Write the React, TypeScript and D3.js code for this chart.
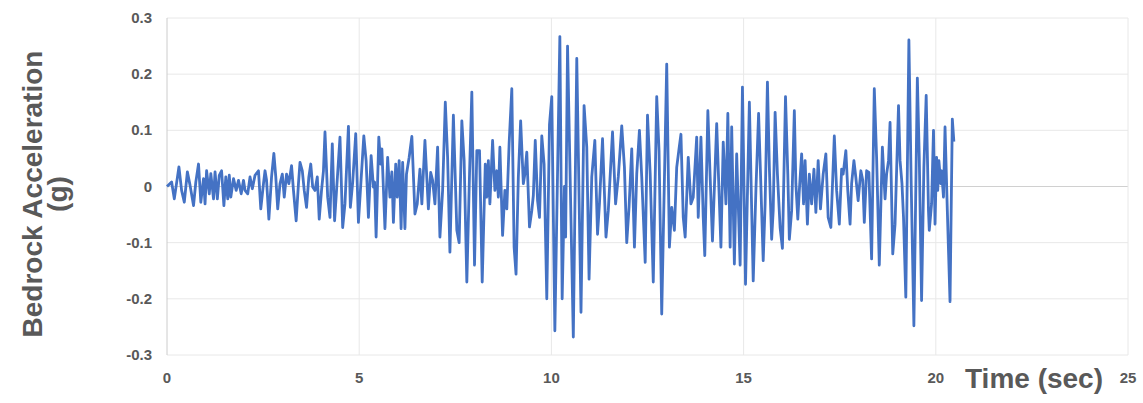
import React, { useEffect, useRef } from "react";
import * as d3 from "d3";

// bedrock acceleration record, [time (sec), acceleration (g)]
const early: [number, number][] = [
  [0, 0], [0.12, 0.008], [0.19, -0.022], [0.31, 0.035], [0.38, -0.007], [0.45, -0.028],
  [0.53, 0.026], [0.6, 0.002], [0.69, -0.034], [0.75, 0.008], [0.82, 0.04], [0.88, -0.028],
  [0.95, 0.014], [0.99, -0.031], [1.03, 0.028], [1.1, -0.013], [1.14, 0.023], [1.21, -0.022],
  [1.25, 0.026], [1.31, -0.022], [1.36, 0.02], [1.42, 0.028], [1.48, -0.034], [1.53, 0.017],
  [1.58, -0.022], [1.62, 0.02], [1.66, -0.019], [1.73, 0.014], [1.8, -0.007], [1.86, 0.011],
  [1.93, -0.013], [1.99, 0.011], [2.03, -0.007], [2.1, -0.013], [2.16, 0.017], [2.22, -0.004],
  [2.29, 0.02], [2.38, 0.028], [2.44, -0.04], [2.51, 0.005], [2.55, 0.028], [2.59, 0.011],
  [2.65, -0.058], [2.72, 0.017], [2.78, 0.059], [2.83, 0.017], [2.88, -0.04], [2.94, 0.005],
  [3.0, 0.022], [3.05, -0.019], [3.11, 0.022], [3.17, 0.005], [3.24, 0.037], [3.29, -0.007],
  [3.36, -0.061], [3.42, 0.005], [3.46, 0.043], [3.52, 0.028], [3.57, -0.007], [3.63, -0.037],
  [3.69, 0.017], [3.74, 0.04], [3.79, -0.001], [3.85, -0.007], [3.91, 0.017], [3.96, -0.058],
  [4.02, -0.007], [4.07, 0.028], [4.11, 0.097], [4.18, -0.019], [4.24, -0.055], [4.3, 0.076],
  [4.36, -0.061], [4.5, 0.088], [4.57, -0.073], [4.63, -0.031], [4.72, 0.107], [4.77, -0.037],
  [4.83, 0.007], [4.91, 0.094], [4.98, -0.064],
];

const buildUp: [number, number][] = [
  [5.12, 0.09], [5.18, 0.046], [5.24, -0.055], [5.31, 0.055], [5.37, -0.001], [5.4, 0.008],
  [5.44, -0.09], [5.51, 0.088], [5.56, 0.04], [5.59, 0.067], [5.67, -0.075], [5.74, 0.052],
  [5.8, -0.019], [5.85, 0.026], [5.89, -0.064], [5.95, 0.04], [5.99, -0.019], [6.04, 0.046],
  [6.09, -0.075], [6.13, 0.043], [6.19, -0.075], [6.23, 0.022], [6.3, 0.052], [6.37, 0.089],
  [6.45, -0.049], [6.51, -0.031], [6.58, 0.031], [6.63, -0.031], [6.71, 0.082], [6.8, -0.04],
  [6.86, 0.025], [6.91, 0.011], [6.97, -0.031], [7.04, 0.07], [7.1, -0.09], [7.17, -0.007],
  [7.24, 0.15], [7.3, 0.052], [7.36, -0.117], [7.45, 0.127], [7.54, -0.078], [7.6, -0.1],
  [7.67, 0.117], [7.73, 0.046], [7.8, -0.17], [7.87, 0.022], [7.93, 0.168], [8.0, -0.14],
  [8.06, 0.064], [8.13, 0.064], [8.2, -0.17], [8.28, 0.04], [8.32, -0.019], [8.36, 0.046],
  [8.4, -0.031], [8.47, 0.082], [8.53, -0.007], [8.58, 0.028], [8.62, -0.019], [8.66, 0.07],
  [8.73, -0.087], [8.79, -0.007], [8.84, -0.04], [8.9, 0.076], [8.97, 0.174], [9.03, -0.108],
  [9.08, -0.156], [9.14, 0.017], [9.2, 0.117], [9.27, 0.005], [9.31, 0.022], [9.36, 0.061],
  [9.43, -0.072], [9.49, -0.043], [9.53, -0.016], [9.58, 0.082], [9.64, -0.025], [9.69, -0.055],
  [9.75, 0.09], [9.81, 0.04], [9.88, -0.2], [9.95, 0.11], [10.01, 0.16], [10.09, -0.257],
];

const strong: [number, number][] = [
  [10.22, 0.267], [10.28, -0.2], [10.34, 0.0], [10.37, -0.09], [10.42, 0.25], [10.57, -0.268],
  [10.66, 0.228], [10.77, -0.224], [10.85, 0.144], [10.92, 0.07], [10.98, -0.165], [11.05, 0.017],
  [11.13, 0.082], [11.2, -0.085], [11.25, -0.031], [11.33, 0.085], [11.42, -0.09], [11.48, -0.043],
  [11.59, 0.097], [11.67, -0.031], [11.74, 0.017], [11.83, 0.108], [11.9, 0.034], [11.96, -0.1],
  [12.02, -0.037], [12.09, 0.067], [12.16, -0.108], [12.22, 0.022], [12.29, 0.1], [12.35, 0.017],
  [12.44, -0.135], [12.5, 0.127], [12.57, 0.022], [12.65, -0.17], [12.74, 0.16], [12.8, 0.064],
  [12.87, -0.227], [13.0, 0.218], [13.07, -0.108], [13.13, -0.037], [13.2, -0.078], [13.26, 0.034],
  [13.32, 0.067], [13.37, 0.093], [13.43, -0.055], [13.48, -0.09], [13.56, 0.052], [13.63, -0.031],
  [13.69, -0.019], [13.78, 0.088], [13.82, -0.055], [13.89, 0.088], [13.95, -0.055], [13.99, -0.123],
  [14.07, 0.135], [14.13, 0.017], [14.19, -0.097], [14.3, 0.112], [14.36, -0.007], [14.41, -0.108],
  [14.47, 0.079], [14.54, -0.031], [14.59, 0.13], [14.65, -0.108], [14.69, 0.106], [14.76, -0.138],
  [14.82, 0.058], [14.91, -0.14], [14.97, 0.177], [15.05, -0.174], [15.15, 0.15],
];

const late: [number, number][] = [
  [15.25, -0.168], [15.32, -0.007], [15.39, 0.13], [15.44, 0.022], [15.51, -0.132], [15.56, -0.031],
  [15.62, 0.186], [15.67, 0.034], [15.73, -0.094], [15.77, -0.043], [15.82, 0.132], [15.88, 0.022],
  [15.95, -0.073], [16.01, -0.11], [16.09, 0.16], [16.15, 0.022], [16.19, -0.094], [16.25, -0.043],
  [16.32, 0.135], [16.36, 0.005], [16.41, -0.058], [16.45, -0.007], [16.51, 0.058], [16.56, -0.031],
  [16.6, 0.046], [16.66, -0.067], [16.71, 0.022], [16.77, -0.031], [16.83, 0.031], [16.88, -0.046],
  [16.94, 0.046], [17.0, -0.04], [17.07, 0.022], [17.14, 0.058], [17.2, -0.055], [17.27, -0.073],
  [17.36, 0.09], [17.42, -0.007], [17.49, -0.067], [17.55, 0.031], [17.59, 0.022], [17.66, 0.064],
  [17.71, -0.007], [17.77, -0.067], [17.81, 0.005], [17.87, 0.046], [17.92, 0.016], [17.98, -0.025],
  [18.05, 0.028], [18.1, 0.011], [18.14, -0.064], [18.2, 0.028], [18.26, 0.025], [18.33, -0.129],
  [18.4, 0.174], [18.46, 0.052], [18.53, -0.14], [18.61, 0.07], [18.68, -0.022], [18.72, 0.022],
  [18.77, 0.046], [18.81, 0.114], [18.88, -0.12], [18.94, -0.067], [19.03, 0.144], [19.07, 0.046],
  [19.12, 0.005], [19.16, -0.055], [19.22, -0.197], [19.3, 0.261], [19.36, 0.005], [19.43, -0.248],
  [19.52, 0.193], [19.57, 0.052], [19.63, -0.203], [19.69, 0.034], [19.75, 0.162], [19.81, -0.043],
  [19.83, -0.078], [19.89, -0.031], [19.94, 0.1], [19.98, -0.067], [20.02, 0.052], [20.05, -0.007],
  [20.08, 0.046], [20.13, 0.005], [20.15, 0.028], [20.2, -0.019], [20.24, 0.106], [20.3, -0.043],
  [20.37, -0.205], [20.43, 0.12], [20.47, 0.08],
];

const xTicks = [0, 5, 10, 15, 20, 25];
const yTicks = [-0.3, -0.2, -0.1, 0, 0.1, 0.2, 0.3];
const yTickLabels = ["-0.3", "-0.2", "-0.1", "0", "0.1", "0.2", "0.3"];

const App = () => {
  const ref = useRef<SVGSVGElement>(null);

  useEffect(() => {
    const data = [...early, ...buildUp, ...strong, ...late];
    const svg = d3.select(ref.current);
    svg.selectAll("*").remove();

    const x = d3.scaleLinear().domain([0, 25]).range([167, 1128]);
    const y = d3.scaleLinear().domain([-0.3, 0.3]).range([355, 18]);
    const grey = "#595959";
    const font = "Liberation Sans, Arial, sans-serif";

    // grid
    svg
      .append("g")
      .selectAll("line")
      .data(yTicks)
      .join("line")
      .attr("x1", x(0))
      .attr("x2", x(25))
      .attr("y1", (d) => y(d))
      .attr("y2", (d) => y(d))
      .attr("stroke", (d) => (d === 0 ? "#d0d0d0" : "#e8e8e8"))
      .attr("stroke-width", 1);

    svg
      .append("g")
      .selectAll("line")
      .data(xTicks)
      .join("line")
      .attr("x1", (d) => x(d))
      .attr("x2", (d) => x(d))
      .attr("y1", y(0.3))
      .attr("y2", y(-0.3))
      .attr("stroke", (d) => (d === 0 ? "#cccccc" : "#e8e8e8"))
      .attr("stroke-width", 1);

    // tick labels
    svg
      .append("g")
      .selectAll("text")
      .data(yTicks)
      .join("text")
      .attr("x", 152)
      .attr("y", (d) => y(d) + 5)
      .attr("text-anchor", "end")
      .attr("font-family", font)
      .attr("font-size", 15)
      .attr("font-weight", "bold")
      .attr("fill", grey)
      .text((d, i) => yTickLabels[i]);

    svg
      .append("g")
      .selectAll("text")
      .data(xTicks)
      .join("text")
      .attr("x", (d) => x(d))
      .attr("y", 383)
      .attr("text-anchor", "middle")
      .attr("font-family", font)
      .attr("font-size", 15)
      .attr("font-weight", "bold")
      .attr("fill", grey)
      .text((d) => d);

    // series
    svg
      .append("path")
      .datum(data)
      .attr("fill", "none")
      .attr("stroke", "#4472C4")
      .attr("stroke-width", 2.8)
      .attr("stroke-linejoin", "round")
      .attr(
        "d",
        d3
          .line<[number, number]>()
          .x((d) => x(d[0]))
          .y((d) => y(d[1]))
      );

    // axis titles
    svg
      .append("text")
      .attr("x", 1034)
      .attr("y", 388)
      .attr("text-anchor", "middle")
      .attr("font-family", font)
      .attr("font-size", 28)
      .attr("font-weight", "bold")
      .attr("fill", grey)
      .text("Time (sec)");

    const yTitle = svg
      .append("text")
      .attr("transform", "translate(0,194) rotate(-90)")
      .attr("text-anchor", "middle")
      .attr("font-family", font)
      .attr("font-size", 28)
      .attr("font-weight", "bold")
      .attr("fill", grey);
    yTitle.append("tspan").attr("x", 0).attr("y", 42).text("Bedrock Acceleration");
    yTitle.append("tspan").attr("x", 0).attr("y", 67).text("(g)");
  }, []);

  return (
    <svg
      ref={ref}
      width={1143}
      height={403}
      style={{ position: "absolute", left: 0, top: 0, background: "#fff" }}
    />
  );
};

export default App;
